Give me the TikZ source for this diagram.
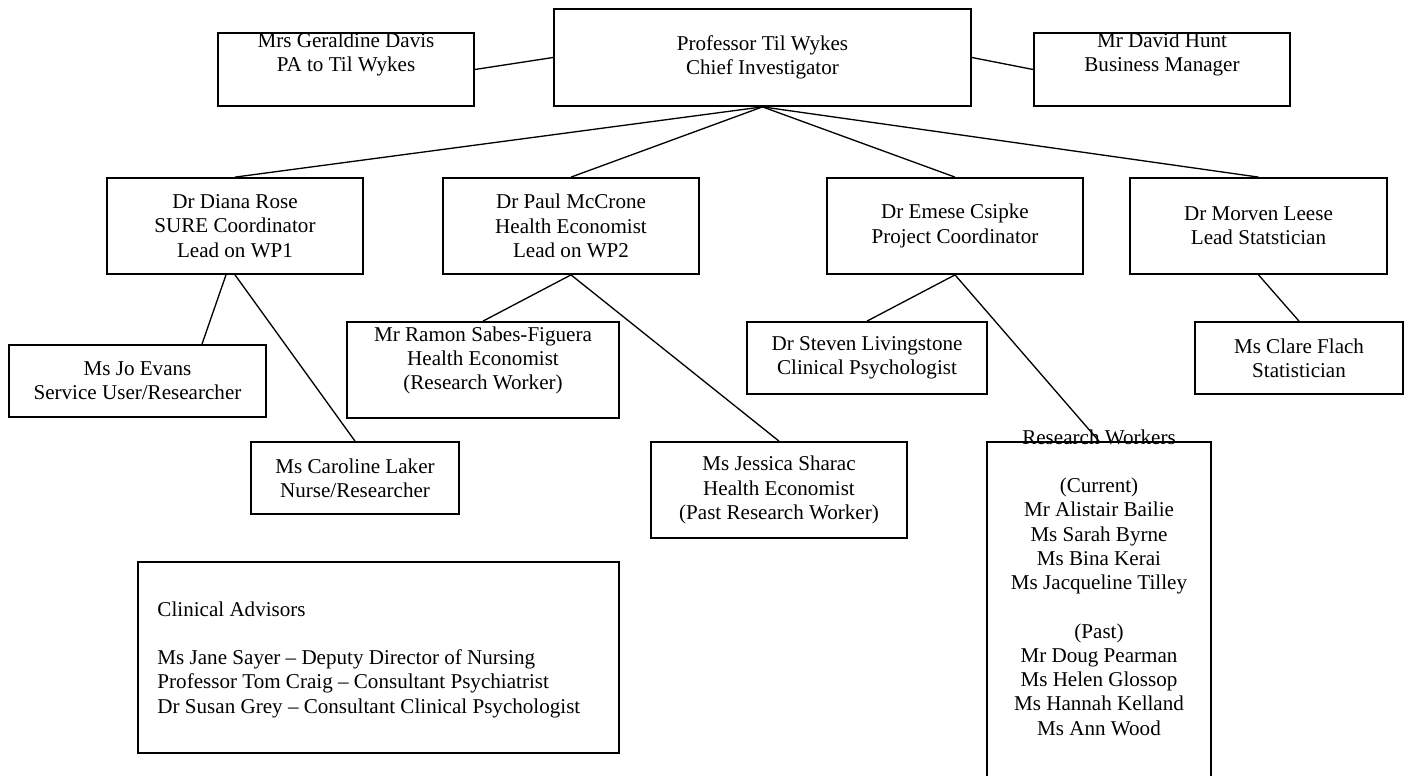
\documentclass[tikz,border=0pt]{standalone}
\usepackage{fontspec}
\setmainfont{Liberation Serif}

\begin{document}
\begin{tikzpicture}[x=0.02cm, y=-0.02cm,
   box/.style 2 args={draw, line width=1pt, minimum width=#1*0.02cm, minimum height=#2*0.02cm, inner sep=0pt, align=center},
   boxtext/.style={inner sep=0pt, align=center},
   link/.style={line width=0.75pt},
   font=\fontsize{12}{13.8}\selectfont]

   \useasboundingbox (0,0) rectangle (1406,776);

   % boxes with their text in the middle
   \foreach \n/\x/\y/\w/\h/\t in {
       tw/762.5/57.5/417/97/{Professor Til Wykes\\Chief Investigator},
       dr/235/226/256/96/{Dr Diana Rose\\SURE Coordinator\\Lead on WP1},
       pm/571/226/256/96/{Dr Paul McCrone\\Health Economist\\Lead on WP2},
       ec/955/226/256/96/{Dr Emese Csipke\\Project Coordinator},
       ml/1258.5/226/257/96/{Dr Morven Leese\\Lead Statstician},
       je/137.5/381/257/72/{Ms Jo Evans\\Service User/Researcher},
       cl/355/478/208/72/{Ms Caroline Laker\\Nurse/Researcher},
       js/779/490/256/96/{Ms Jessica Sharac\\Health Economist\\(Past Research Worker)},
       sl/867/358/240/72/{Dr Steven Livingstone\\Clinical Psychologist},
       cf/1299/358/208/72/{Ms Clare Flach\\Statistician}}
     \node[box={\w}{\h}] (\n) at (\x,\y) {\t};

   % boxes with their text at the top
   \node[box={256}{73}] (gd) at (346,69.5) {};
   \node[boxtext, anchor=north] (gdtext) at (gd.north) {Mrs Geraldine Davis\\PA to Til Wykes};
   \node[box={256}{73}] (dh) at (1162,69.5) {};
   \node[boxtext, anchor=north] (dhtext) at (dh.north) {Mr David Hunt\\Business Manager};
   \node[box={272}{96}] (rs) at (483,370) {};
   \node[boxtext, anchor=north] (rstext) at ([yshift=-0.1cm]rs.north) {Mr Ramon Sabes-Figuera\\Health Economist\\(Research Worker)};
   \node[box={224}{338}] (rw) at (1099,611) {};
   \node[boxtext, anchor=north] (rwtext) at ([yshift=0.24cm]rw.north) {Research Workers\\[13.8pt](Current)\\Mr Alistair Bailie\\Ms Sarah Byrne\\Ms Bina Kerai\\Ms Jacqueline Tilley\\[13.8pt](Past)\\Mr Doug Pearman\\Ms Helen Glossop\\Ms Hannah Kelland\\Ms Ann Wood};
   \node[box={481}{191}] (ca) at (378.5,657.5) {};
   \node[inner sep=0pt, align=left, anchor=north west] (catext) at ([xshift=0.4cm, yshift=-0.8cm]ca.north west) {Clinical Advisors\\[13.8pt]Ms Jane Sayer – Deputy Director of Nursing\\Professor Tom Craig – Consultant Psychiatrist\\Dr Susan Grey – Consultant Clinical Psychologist};

   % connectors
   \draw[link] (gd.east) -- (tw.west);
   \draw[link] (tw.east) -- (dh.west);
   \foreach \i/\j in {tw/dr, tw/pm, tw/ec, tw/ml, dr/cl, pm/rs, pm/js, ec/sl, ec/rw, ml/cf}
     \draw[link] (\i.south) -- (\j.north);
   \draw[link] ([xshift=-0.18cm]dr.south) -- ([xshift=1.29cm]je.north);

\end{tikzpicture}
\end{document}
